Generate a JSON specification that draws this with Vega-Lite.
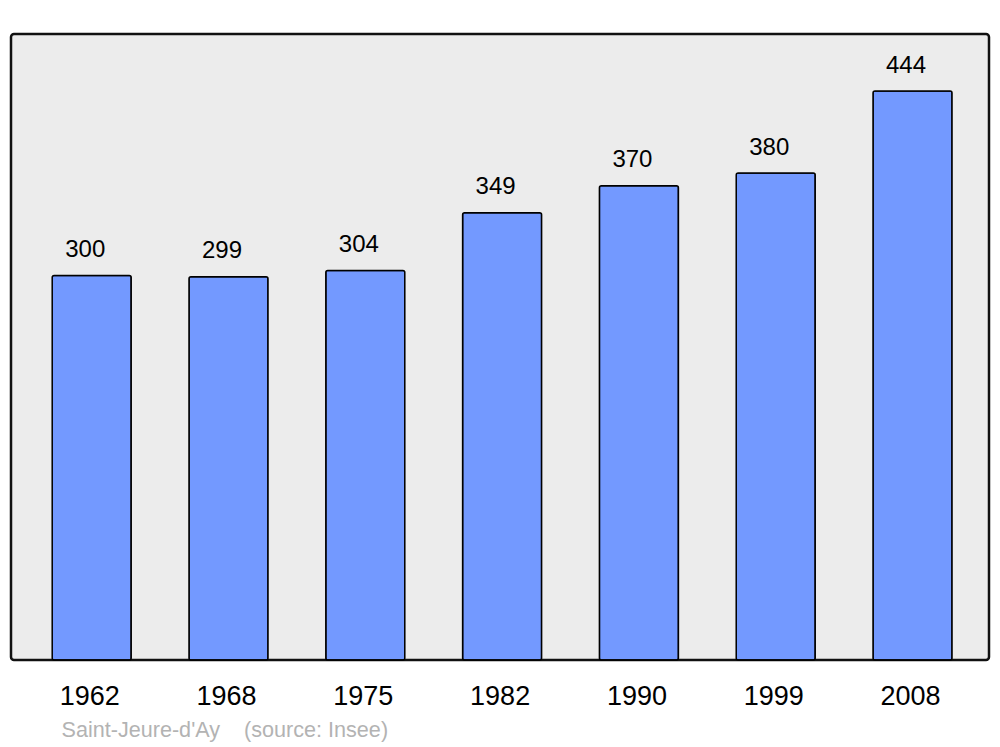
{
  "$schema": "https://vega.github.io/schema/vega-lite/v6.json",
  "width": 978,
  "height": 626,
  "padding": {"left": 11, "top": 34, "right": 11, "bottom": 0},
  "background": "white",
  "config": {
    "font": "Liberation Sans",
    "view": {"fill": "#ececec", "stroke": "#111111", "strokeWidth": 2.5, "cornerRadius": 3}
  },
  "data": {
    "values": [
      {"year": "1962", "pop": 300},
      {"year": "1968", "pop": 299},
      {"year": "1975", "pop": 304},
      {"year": "1982", "pop": 349},
      {"year": "1990", "pop": 370},
      {"year": "1999", "pop": 380},
      {"year": "2008", "pop": 444}
    ]
  },
  "encoding": {
    "x": {
      "field": "year",
      "type": "ordinal",
      "sort": null,
      "scale": {"paddingInner": 0.4225, "paddingOuter": 0.2857, "align": 0.527},
      "axis": {
        "title": "Saint-Jeure-d'Ay\u00a0\u00a0\u00a0\u00a0(source: Insee)",
        "titleFontSize": 21.6,
        "titleFontWeight": "normal",
        "titleColor": "#b3b3b3",
        "titleAnchor": "start",
        "titleAlign": "left",
        "titleBaseline": "alphabetic",
        "titleX": 50,
        "titleY": 76.5,
        "domain": false,
        "ticks": false,
        "tickSize": 0,
        "labelAngle": 0,
        "labelFontSize": 27,
        "labelColor": "black",
        "labelBaseline": "alphabetic",
        "labelPadding": 44.5,
        "labelOffset": -2
      }
    },
    "y": {
      "field": "pop",
      "type": "quantitative",
      "scale": {"domain": [0, 488.5], "nice": false, "zero": true},
      "axis": null
    }
  },
  "layer": [
    {
      "mark": {"type": "bar", "fill": "#7399ff", "stroke": "black", "strokeWidth": 1.5, "cornerRadius": 2}
    },
    {
      "mark": {"type": "text", "fontSize": 24, "color": "black", "baseline": "alphabetic", "dy": -18.5, "dx": -6.5},
      "encoding": {"text": {"field": "pop", "type": "quantitative"}}
    }
  ]
}
